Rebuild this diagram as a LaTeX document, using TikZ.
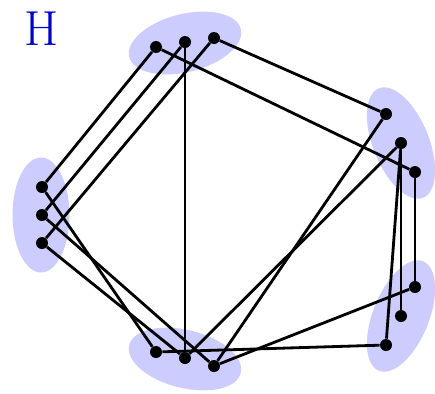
\documentclass[tikz,border=0pt]{standalone}
\usepackage{tikz}
\usetikzlibrary{shapes.geometric}
\definecolor{Hblue}{rgb}{0, 0, 0.8}
\definecolor{blobblue}{rgb}{0.8, 0.8, 1}

\begin{document}
\begin{tikzpicture}[
    x=0.02cm, y=-0.02cm,
    vert/.style={circle, fill=black, inner sep=0pt, minimum size=0.24cm},
    blob/.style={ellipse, fill=blobblue, inner sep=0pt},
    edge/.style={line width=1.6pt}
]
\useasboundingbox (0,0) rectangle (435,393);
% --- Label ---
\node[text=Hblue, inner sep=0pt, font=\fontsize{28}{30}\selectfont] (lab) at (42,29) {H};

% --- Groups (background) ---
\node[blob, minimum width=2.3cm, minimum height=1.16cm, rotate=14] (GT) at (185,43) {};
\node[blob, minimum width=1.14cm, minimum height=2.3cm] (GL) at (41,215) {};
\node[blob, minimum width=2.3cm, minimum height=1.16cm, rotate=-14] (GB) at (185,359) {};
\node[blob, minimum width=1.12cm, minimum height=2.36cm, rotate=22] (GR) at (401,143) {};
\node[blob, minimum width=1.12cm, minimum height=2.36cm, rotate=-22] (GS) at (401,316) {};

% --- Vertices ---
\node[vert] (T1) at (156,47) {};
\node[vert] (T2) at (185,42) {};
\node[vert] (T3) at (214,38) {};
\node[vert] (R1) at (386,114) {};
\node[vert] (R2) at (401,143) {};
\node[vert] (R3) at (415,172) {};
\node[vert] (S1) at (415,287) {};
\node[vert] (S2) at (401,316) {};
\node[vert] (S3) at (386,345) {};
\node[vert] (B1) at (156,352) {};
\node[vert] (B2) at (185,358) {};
\node[vert] (B3) at (214,366) {};
\node[vert] (L1) at (42,187) {};
\node[vert] (L2) at (42,215) {};
\node[vert] (L3) at (42,243) {};

% --- Edges ---
\draw[edge] (T1) -- (L1);
\draw[edge] (T2) -- (L2);
\draw[edge] (T3) -- (L3);
\draw[edge] (T1) -- (R3);
\draw[edge] (T3) -- (R1);
\draw[edge] (T2) -- (B2);
\draw[edge] (R1) -- (B3);
\draw[edge] (R2) -- (B2);
\draw[edge] (L1) -- (B1);
\draw[edge] (L2) -- (B3);
\draw[edge] (L3) -- (B2);
\draw[edge] (B1) -- (S3);
\draw[edge] (B3) -- (S1);
\draw[edge] (R3) -- (S1);
\draw[edge] (R2) -- (S2);
\draw[edge] (R2) -- (S3);
\end{tikzpicture}
\end{document}
